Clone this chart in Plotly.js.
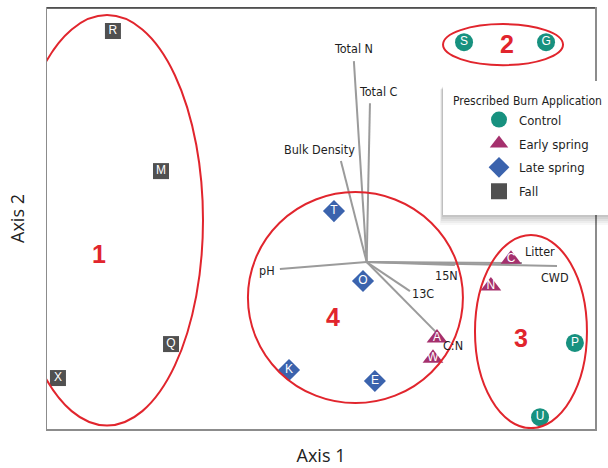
<!DOCTYPE html>
<html>
<head>
<meta charset="utf-8">
<script src="https://cdn.plot.ly/plotly-3.0.1.min.js"></script>
<style>
  html, body { margin: 0; padding: 0; background: #ffffff; }
  #chart { width: 608px; height: 468px; }
</style>
</head>
<body>
<div id="chart"></div>
<script>
// NMDS ordination of plots by prescribed burn timing, with soil/fuel vectors

// Plot scores (Axis 1, Axis 2) and plot IDs for each burn treatment
const controlIds = ['S', 'G', 'P', 'U'];
const controlX = [0.533, 0.982, 1.140, 0.949];
const controlY = [1.204, 1.204, -0.443, -0.849];

const earlyIds = ['C', 'N', 'A', 'W'];
const earlyX = [0.790, 0.680, 0.385, 0.363];
const earlyY = [0.016, -0.131, -0.416, -0.526];

const lateIds = ['T', 'O', 'K', 'E'];
const lateX = [-0.179, -0.020, -0.425, 0.045];
const lateY = [0.279, -0.104, -0.591, -0.651];

const fallIds = ['R', 'M', 'Q', 'X'];
const fallX = [-1.389, -1.126, -1.071, -1.690];
const fallY = [1.265, 0.498, -0.449, -0.635];

// Environmental vectors (endpoints; all start at the origin)
const vecNames = ['Total N', 'Total C', 'Bulk Density', 'pH', '13C', 'C:N', '15N', 'Litter', 'CWD'];
const vecX = [-0.070, 0.018, -0.141, -0.475, 0.237, 0.385, 0.483, 0.850, 1.042];
const vecY = [1.100, 0.870, 0.553, -0.038, -0.159, -0.389, -0.016, -0.005, -0.022];

// Cluster groups: label position and ellipse extent
const groupLabels = ['1', '2', '3', '4'];
const groupX = [-1.466, 0.768, 0.845, -0.184];
const groupY = [0.044, 1.193, -0.416, -0.301];
const ellX0 = [-1.947, 0.418, 0.593, -0.650];
const ellX1 = [-0.896, 1.075, 1.206, 0.527];
const ellY0 = [-0.895, 1.078, -0.909, -0.772];
const ellY1 = [1.352, 1.303, 0.148, 0.383];

// ---- styling ----
const NARROW = "'DejaVu Sans Condensed', 'Liberation Sans Narrow', 'Arial Narrow', sans-serif";
const SANS = "'Open Sans', 'Noto Sans', 'DejaVu Sans', sans-serif";
const RED = '#e1252d';
// label offsets (px) from each vector tip
const vecLabelShift = [[0, 13], [9, 12], [-21, 12], [-13, -1], [13, -2], [16, -12], [-8, -11], [18, 11], [-2, -11]];

// vectors as one broken line
const lineX = [], lineY = [];
vecX.forEach((x, i) => { lineX.push(0, x, null); lineY.push(0, vecY[i], null); });

const markerText = { color: '#ffffff', size: 12, family: "'Liberation Sans', Arial, sans-serif" };

const traces = [
  {
    type: 'scatter', mode: 'lines', x: lineX, y: lineY,
    line: { color: '#9b9b9b', width: 2 }, showlegend: false, hoverinfo: 'skip'
  },
  {
    type: 'scatter', mode: 'markers+text', name: 'Control', legendgroup: 'c',
    x: controlX, y: controlY, text: controlIds, textposition: 'middle center',
    textfont: markerText,
    marker: { symbol: 'circle', size: 18, color: '#17917f' }
  },
  {
    type: 'scatter', mode: 'markers+text', name: 'Early spring', legendgroup: 'e',
    x: earlyX, y: earlyY, text: earlyIds, textposition: 'middle center',
    textfont: markerText,
    marker: { symbol: 'triangle-up', size: 18, color: '#a5306d' }
  },
  {
    type: 'scatter', mode: 'markers+text', name: 'Late spring', legendgroup: 'l',
    x: lateX, y: lateY, text: lateIds, textposition: 'middle center',
    textfont: markerText,
    marker: { symbol: 'diamond', size: 17, color: '#3b63ad' }
  },
  {
    type: 'scatter', mode: 'markers+text', name: 'Fall', legendgroup: 'f',
    x: fallX, y: fallY, text: fallIds, textposition: 'middle center',
    textfont: markerText,
    marker: { symbol: 'square', size: 16, color: '#505050' }
  }
];

const annotations = [];
vecNames.forEach((name, i) => {
  annotations.push({
    x: vecX[i], y: vecY[i], xref: 'x', yref: 'y', text: name, showarrow: false,
    xanchor: 'center', yanchor: 'middle',
    xshift: vecLabelShift[i][0], yshift: vecLabelShift[i][1],
    font: { family: NARROW, size: 12.5, color: '#1e1e1e' }
  });
});
groupLabels.forEach((g, i) => {
  annotations.push({
    x: groupX[i], y: groupY[i], xref: 'x', yref: 'y', text: '<b>' + g + '</b>', showarrow: false,
    xanchor: 'center', yanchor: 'middle',
    font: { family: "'Liberation Sans', Arial, sans-serif", size: 25, color: RED }
  });
});

const shapes = [];
groupLabels.forEach((g, i) => {
  shapes.push({
    type: 'circle', xref: 'x', yref: 'y', layer: 'above',
    x0: ellX0[i], x1: ellX1[i], y0: ellY0[i], y1: ellY1[i],
    line: { color: RED, width: 2 }
  });
});
// darker top edge of the frame
shapes.push({ type: 'line', xref: 'paper', yref: 'paper', x0: 0, x1: 1, y0: 1, y1: 1,
  line: { color: '#3c3c3c', width: 1.5 }, layer: 'above' });
// soft drop shadow under the legend box
const px2x = p => (p - 47) / 548, px2y = p => (429 - p) / 421;
[[2, 0.06], [4, 0.06], [6, 0.06], [8, 0.05], [10, 0.04], [12, 0.03]].forEach(([o, a]) => {
  shapes.push({
    type: 'rect', xref: 'paper', yref: 'paper', layer: 'above',
    x0: px2x(443 - o * 0.25), x1: px2x(640), y0: px2y(213 + o), y1: px2y(86 + o * 0.3),
    fillcolor: 'rgba(0,0,0,' + a + ')', line: { width: 0 }
  });
});

const axisBase = {
  showgrid: false, zeroline: false, showticklabels: false, ticks: '',
  showline: true, mirror: true, linecolor: '#8c8c8c', linewidth: 1.5,
  fixedrange: true
};

const layout = {
  width: 608, height: 468,
  margin: { l: 47, r: 13, t: 8, b: 39, pad: 0, autoexpand: false },
  paper_bgcolor: '#ffffff', plot_bgcolor: '#ffffff',
  xaxis: Object.assign({}, axisBase, {
    range: [-1.75, 1.25],
    title: { text: 'Axis 1', font: { family: SANS, size: 18, color: '#222222' }, standoff: 20 }
  }),
  yaxis: Object.assign({}, axisBase, {
    range: [-0.914, 1.391],
    title: { text: 'Axis 2', font: { family: SANS, size: 18, color: '#222222' }, standoff: 16 }
  }),
  showlegend: true,
  legend: {
    x: px2x(443), y: px2y(81), xanchor: 'left', yanchor: 'top',
    bgcolor: '#ffffff', bordercolor: '#ffffff', borderwidth: 8,
    title: { text: 'Prescribed Burn Application', font: { family: NARROW, size: 12, color: '#1e1e1e' } },
    font: { family: NARROW, size: 13, color: '#1e1e1e' },
    indentation: 28, tracegroupgap: 4
  },
  annotations: annotations,
  shapes: shapes
};

Plotly.newPlot('chart', traces, layout, { displayModeBar: false, staticPlot: true });
</script>
</body>
</html>
